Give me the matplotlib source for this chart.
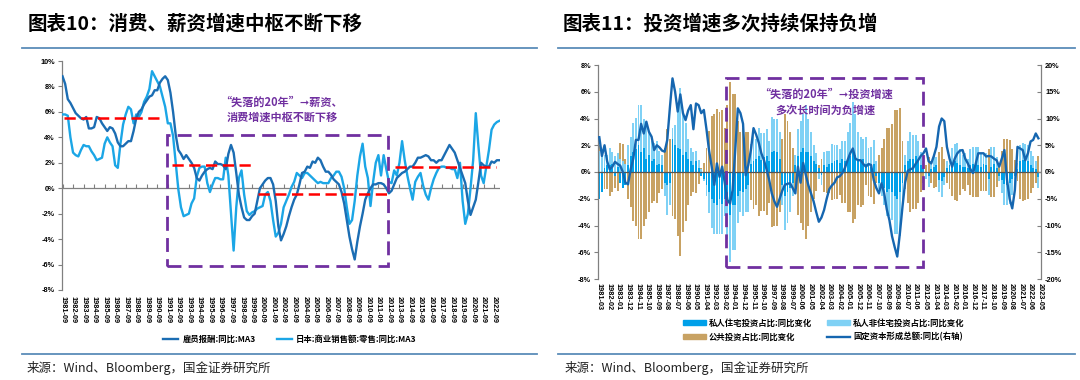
import numpy as np
import matplotlib
matplotlib.use("Agg")
import matplotlib.pyplot as plt
from matplotlib.lines import Line2D
from matplotlib.patches import Patch, Rectangle

plt.rcParams["font.family"] = ["Noto Sans CJK SC", "DejaVu Sans"]
plt.rcParams["axes.unicode_minus"] = False

# ---------------- left chart: quarterly, first point 1981Q3 ----------------
left_start = 1981.75
wage_yoy = [
    8.8,
    8.2, 7.0, 6.7, 6.3,      # 1982
    5.9, 5.7, 5.5, 5.4,      # 1983
    5.6, 4.7, 4.7, 4.8,      # 1984
    5.6, 5.5, 5.1, 4.8,      # 1985
    4.5, 4.8, 4.7, 4.3,      # 1986
    3.6, 3.3, 3.3, 3.5,      # 1987
    3.7, 3.7, 4.5, 5.5,      # 1988
    6.0, 6.2, 6.6, 6.9,      # 1989
    7.2, 7.3, 7.7, 7.7,      # 1990
    8.3, 8.6, 8.8, 8.5,      # 1991
    7.5, 6.0, 4.2, 3.0,      # 1992
    2.7, 2.3, 2.6, 2.3,      # 1993
    2.0, 1.6, 0.8, 0.6,      # 1994
    1.0, 1.3, 1.5, 1.6,      # 1995
    1.5, 2.1, 1.9, 1.9,      # 1996
    1.8, 1.5, 2.7, 3.4,      # 1997
    2.8, 1.2, -0.5, -1.5,    # 1998
    -2.3, -2.5, -2.5, -2.2,  # 1999
    -2.0, -1.0, 0.0, 0.3,    # 2000
    0.6, 0.8, 0.8, 0.3,      # 2001
    -1.0, -3.0, -4.1, -3.6,  # 2002
    -3.0, -2.2, -1.5, -0.9,  # 2003
    -0.5, 0.3, 1.2, 1.3,     # 2004
    1.7, 1.6, 2.1, 2.0,      # 2005
    2.4, 2.2, 1.7, 1.3,      # 2006
    1.3, 1.05, 0.7, 0.5,     # 2007
    0.3, -0.3, -1.2, -2.5,   # 2008
    -3.8, -4.8, -5.6, -4.2,  # 2009
    -3.0, -2.0, -0.9, -0.4,  # 2010
    0.0, 0.3, 0.3, 0.4,      # 2011
    0.4, 0.3, 0.0, -0.4,     # 2012
    -0.2, 0.3, 0.8, 1.0,     # 2013
    1.2, 1.3, 1.5, 1.7,      # 2014
    1.7, 2.0, 2.4, 2.4,      # 2015
    2.5, 2.6, 2.5, 2.2,      # 2016
    2.2, 2.0, 2.2, 2.2,      # 2017
    2.6, 3.0, 3.4, 3.1,      # 2018
    2.8, 2.2, 1.6, 1.0,      # 2019
    0.4, -1.0, -2.1, -1.5,   # 2020
    -0.9, 0.5, 2.0, 1.8,     # 2021
    1.7, 1.7, 2.1, 2.0,      # 2022
    2.2, 2.2,                # 2023
]
retail_yoy = [
    5.8,
    5.8, 5.7, 4.0, 2.8,      # 1982
    2.6, 2.5, 3.0, 3.4,      # 1983
    3.3, 3.3, 2.9, 2.6,      # 1984
    2.2, 2.3, 2.4, 3.5,      # 1985
    4.0, 3.6, 3.3, 1.8,      # 1986
    1.6, 3.5, 5.0, 5.8,      # 1987
    6.4, 6.2, 5.1, 5.8,      # 1988
    5.6, 6.0, 6.8, 7.2,      # 1989
    7.8, 9.2, 8.8, 8.4,      # 1990
    8.0, 7.2, 6.4, 5.1,      # 1991
    5.1, 4.1, 2.0, -0.1,     # 1992
    -1.5, -2.2, -2.1, -2.0,  # 1993
    -1.2, -0.8, 0.9, 1.6,    # 1994
    1.7, 1.7, 0.4, -0.3,     # 1995
    0.3, 0.8, 0.8, 0.7,      # 1996
    0.7, 2.4, 1.0, -2.0,     # 1997
    -4.9, -1.5, 0.8, 1.4,    # 1998
    -0.5, -1.8, -2.1, -1.9,  # 1999
    -1.8, -1.6, -1.5, -1.4,  # 2000
    -0.5, -0.3, -1.0, -2.5,  # 2001
    -3.8, -3.5, -2.8, -1.5,  # 2002
    -1.0, -0.5, 0.1, 0.5,    # 2003
    1.2, 1.0, 0.8, 1.2,      # 2004
    1.2, 1.0, 0.8, 0.6,      # 2005
    0.4, 0.5, 0.4, 0.4,      # 2006
    0.4, 0.8, 1.0, 1.3,      # 2007
    1.3, 0.9, 0.0, -1.5,     # 2008
    -2.8, -2.5, -1.0, 1.0,   # 2009
    2.5, 3.5, 1.7, 0.8,      # 2010
    -1.4, 0.5, 2.0, 2.6,     # 2011
    1.0, 2.6, 1.5, 0.5,      # 2012
    0.4, 1.4, 1.0, 2.0,      # 2013
    3.7, 2.2, 1.0, 0.0,      # 2014
    -0.9, 0.5, 0.9, 1.2,     # 2015
    0.2, -0.5, -0.9, 0.0,    # 2016
    0.7, 1.2, 1.6, 1.7,      # 2017
    1.7, 1.6, 1.6, 1.5,      # 2018
    1.5, 0.8, 2.0, -1.0,     # 2019
    -2.8, -2.0, 0.0, 2.2,    # 2020
    5.9, 3.3, 1.0, 0.4,      # 2021
    1.7, 3.0, 4.6, 5.0,      # 2022
    5.2, 5.3,                # 2023
]
left_ticklabels = [f"{y}-09" for y in range(1981, 2023)]

# period averages (red dashes)
avg_levels = [5.5, 1.8, -0.47, 1.63]
avg_from = [1981.87, 1992.14, 2000.31, 2013.28]
avg_to = [1991.34, 1999.71, 2012.6, 2022.9]

# ---------------- right chart: quarterly, first bar 1981-03 ----------------
res_share = [
    -2.0, -1.5, 0.3, 0.5,  0.5, 0.6, -0.3, 0.4,  -0.8, -1.2, -1.0, 0.5,
    1.2, 1.5, 1.7, 2.0,  1.5, 1.8, 1.0, 1.3,  0.8, 1.0, 0.5, 0.6,
    0.5, -0.8, -1.0, -0.8,  2.5, 2.0, 1.8, 1.7,  1.3, 1.5, 1.0, 0.8,
    0.5, 0.8, 0.3, -0.3,  -0.5, -1.0, -1.5, -2.0,  -2.3, -2.5, -2.0, -2.4,
    -2.0, -2.5, -3.2, -2.5,  -2.5, -1.8, -1.4, -1.5,  -1.3, -1.0, 0.6, 0.8,
    1.0, 1.2, 0.9, 1.1,  1.2, 0.8, 1.5, 1.6,  1.5, 1.0, -1.0, -1.8,
    -1.5, -1.2, -0.8, 0.5,  1.2, 1.5, 1.8, 1.5,  1.5, 1.2, 0.8, 0.6,
    0.3, -0.2, 0.5, 0.4,  0.6, 0.7, 0.8, 0.9,  0.7, 1.0, 0.8, 1.0,
    1.2, 1.5, 1.3, 1.0,  0.8, 1.0, 0.6, 0.5,  0.4, 0.6, -0.3, -0.8,
    -0.8, -1.2, -1.5, -1.3,  -1.5, -1.8, -2.0, -1.5,  -0.8, 0.5, 0.8, 1.0,
    1.0, 1.2, 0.8, 0.5,  0.3, 0.0, -0.3, 0.2,  0.4, 0.5, -0.6, -0.7,
    -0.4, 0.3, 0.5, 0.6,  0.8, 0.7, 0.5, 0.4,  0.4, 0.3, 0.5, 0.6,
    0.7, 0.5, 0.4, 0.6,  0.5, -0.5, 0.4, 0.6,  0.3, -0.3, -0.6, -0.9,
    -1.0, -0.8, -0.5, -0.3,  0.2, 0.8, 0.9, 1.0,  0.8, 0.5, 0.3, 0.2,
    -0.4,
]
nonres_share = [
    1.6, 1.2, 1.0, 0.8,  1.3, 0.9, 1.2, 1.0,  1.0, 0.8, 0.6, 1.5,
    1.4, 2.2, 2.3, 3.0,  3.5, 2.2, 2.5, 1.7,  1.5, 1.2, 1.8, 1.0,
    0.8, -1.0, -2.2, -1.7,  0.8, 1.5, 3.0, 4.6,  3.2, 2.2, 1.5, 1.0,
    1.0, 0.8, 0.6, 0.2,  -0.2, -0.8, -1.6, -2.2,  -2.3, -2.1, -2.6, -2.2,
    -1.3, -2.5, -3.5, -3.3,  -3.3, -2.0, -1.6, -1.8,  -1.7, -2.0, 1.5, 2.0,
    1.5, 2.1, 2.0, 1.8,  2.0, 1.5, 2.6, 2.4,  2.5, 2.0, -1.5, -2.5,
    -2.3, -1.8, -1.0, 0.8,  2.0, 2.3, 2.5, 3.5,  2.5, 1.8, 1.2, 0.8,
    -0.5, -0.8, 1.0, 1.2,  1.0, 1.4, 1.2, 1.1,  1.0, 1.3, 1.5, 2.0,
    2.5, 3.7, 3.0, 2.0,  1.8, 1.5, 2.0, 1.3,  1.5, 1.8, 0.8, -0.5,
    -1.0, -1.3, -1.8, -2.0,  -2.1, -2.8, -2.6, -3.3,  -1.5, 0.8, 1.5, 2.0,
    1.8, 1.6, 1.5, 1.0,  0.5, -0.5, -0.8, 0.6,  0.8, 0.6, -0.9, -1.2,
    -0.6, 0.5, 0.8, 1.2,  1.3, 1.5, 1.2, 0.9,  1.0, 0.7, 1.2, 1.3,
    1.2, 1.4, 1.0, 0.8,  0.9, -1.2, 1.5, 1.3,  0.8, -0.4, -1.0, -1.6,
    -1.5, -1.6, -1.2, -0.6,  0.5, 1.2, 1.3, 1.1,  1.2, 1.1, 0.9, 0.6,
    -0.8,
]
public_share = [
    0.4, 0.3, -1.3, -1.3,  -1.8, -1.5, -0.9, -1.4,  1.2, 1.3, 0.4, -2.0,
    -2.6, -3.7, -4.0, -5.0,  -5.0, -4.0, -3.5, -3.0,  -2.3, -2.2, -2.3, -1.6,
    -1.3, 1.8, 3.2, 2.5,  -3.3, -3.5, -4.8, -6.3,  -4.5, -3.7, -2.5, -1.8,
    -1.5, -1.6, -0.9, 0.1,  0.7, 1.8, 3.1, 4.2,  4.3, 4.7, 4.5, 4.6,
    3.3, 5.0, 6.7, 5.8,  5.8, 3.8, 3.0, 3.3,  3.0, 3.0, -2.1, -2.8,
    -2.5, -3.3, -2.9, -2.9,  -3.2, -2.3, -4.1, -4.0,  -4.0, -3.0, 2.5, 4.3,
    3.8, 3.0, 1.8, -1.3,  -3.2, -3.8, -4.3, -5.0,  -4.0, -3.0, -2.0, -1.4,
    0.2, 1.0, -1.5, -1.6,  -1.6, -2.1, -2.0, -2.0,  -1.7, -2.3, -2.3, -3.0,
    -3.0, -3.8, -3.5, -2.5,  -2.6, -2.5, -1.0, -1.8,  -1.9, -2.4, -0.5, 1.3,
    1.8, 2.5, 3.3, 3.3,  3.6, 4.6, 4.6, 4.8,  2.3, -1.3, -2.3, -3.0,
    -2.8, -2.8, -2.3, -1.5,  -0.8, 0.5, 1.1, -0.8,  -1.2, -1.1, 1.5, 1.9,
    1.0, -0.8, -1.3, -1.8,  -2.1, -2.2, -1.7, -1.3,  -1.4, -1.0, -1.7, -1.9,
    -1.9, -1.9, -1.4, -1.4,  -1.4, 1.7, -1.9, -1.9,  -1.1, 0.7, 1.6, 2.5,
    2.5, 2.4, 1.7, 0.9,  -0.7, -2.0, -2.2, -2.1,  -2.0, -1.6, -1.2, -0.8,
    1.2,
]
gfcf_yoy = [
    6.5, 3.0, 5.0, 2.0,  0.5, 1.0, 1.9, 1.5,  1.2, 0.0, -2.0, -2.3,
    0.5, 2.5, 6.0, 6.0,  9.0, 7.2, 9.4, 7.5,  6.6, 4.1, 5.0, 4.6,
    4.0, 3.8, 6.0, 12.0,  17.5, 15.0, 11.3, 14.5,  11.0, 9.7, 11.5, 12.5,
    8.0, 12.8, 12.5, 11.0,  11.6, 8.0, 4.0, 1.0,  -2.4, 1.6, -0.9, 1.0,
    -2.0, -5.2, -5.9, -3.4,  4.0, 11.9, 11.0, 9.0,  -0.6, 1.3, 4.1, 8.2,
    7.0, 5.5, 3.5, 2.2,  0.5, -1.5, -4.0, -5.5,  -6.5, -5.0, -3.5, -2.4,
    -2.2, -2.1, -3.0, -4.0,  1.0, -2.0, 1.7, -0.5,  -2.5, -4.0, -5.5, -7.5,
    -9.3, -8.5, -7.1, -5.0,  -3.2, -2.5, -2.0, -1.0,  -0.8, -0.2, 0.8, 2.2,
    3.5, 4.4, 2.5, 2.2,  2.2, 1.5, 1.0, 1.5,  1.3, -1.5, -3.0, -4.0,
    -2.1, -4.0, -7.0, -9.0,  -12.0, -14.0, -15.8, -11.5,  -6.5, -2.0, 0.2, 0.5,
    0.7, 1.5, 2.2, 3.0,  3.5, 4.4, 2.0, 1.6,  3.0, 4.7, 8.5, 10.0,
    9.5, 4.7, 2.5, 1.0,  2.5, 3.5, 4.0, 4.1,  2.5, 1.6, 0.5, -0.2,
    1.5, 3.5, 3.5, 3.5,  2.9, 3.0, 2.9, 2.5,  2.2, 1.0, 2.5, 4.1,
    -1.5, -5.0, -6.8, -3.4,  4.7, 4.4, 4.1, 2.2,  3.5, 5.7, 6.0, 7.2,
    6.3,
]
# tick every 11 months starting 1981-03
right_tick_months = list(range(0, 507, 11))
right_ticklabels = [f"{1981 + (2 + m) // 12}-{(2 + m) % 12 + 1:02d}" for m in right_tick_months]

# colours
C_WAGE = "#1b6db3"
C_RETAIL = "#1ba6e6"
C_RES = "#00a0e9"
C_NONRES = "#7fd1f5"
C_PUB = "#c8a263"
C_GFCF = "#1566b0"
C_RED = "#ff0000"
C_PURPLE = "#7030a0"
C_AXIS = "#808080"
C_RULE = "#5b8cb9"

NUM_FONT = dict(family="Liberation Sans", weight="bold", size=5.3)
LEGEND_PROP = dict(family=["Noto Sans CJK SC"], weight="bold", size=6)


def style_ticklabels(labels):
    for lab in labels:
        lab.set_fontfamily(NUM_FONT["family"])
        lab.set_fontweight(NUM_FONT["weight"])
        lab.set_fontsize(NUM_FONT["size"])


fig = plt.figure(figsize=(10.8, 3.8), dpi=100)
W, H = 1080, 380


def fx(px):
    return px / W


def fy(py):
    return 1 - py / H


# ---------------- left chart ----------------
axL = fig.add_axes([fx(62), fy(290), fx(438), 229 / H])
xL = left_start + 0.25 * np.arange(len(wage_yoy))
xR_ = left_start + 0.25 * np.arange(len(retail_yoy))
axL.plot(xR_, retail_yoy, color=C_RETAIL, lw=1.7, label="日本:商业销售额:零售:同比:MA3", zorder=3)
axL.plot(xL, wage_yoy, color=C_WAGE, lw=1.7, label="雇员报酬:同比:MA3", zorder=4)
for lvl, a, b in zip(avg_levels, avg_from, avg_to):
    axL.plot([a, b], [lvl, lvl], color=C_RED, lw=1.8, dashes=(4.5, 2.2), zorder=5)
axL.add_patch(Rectangle((1991.66, -6.1), 2012.65 - 1991.66, 4.2 + 6.1, fill=False,
                        ec=C_PURPLE, lw=2.0, ls=(0, (5, 2.6)), zorder=6))
axL.axhline(0, color=C_AXIS, lw=0.9, zorder=2)
axL.set_xlim(1981.7, 2023.3)
axL.set_ylim(-8, 10)
yt = np.arange(-8, 11, 2)
axL.set_yticks(yt)
axL.set_yticklabels([f"{v}%" for v in yt])
ticks_L = left_start + np.arange(len(left_ticklabels))
axL.set_xticks(ticks_L)
axL.set_xticklabels(left_ticklabels, rotation=-90)
axL.tick_params(axis="x", length=0, pad=4)
axL.tick_params(axis="y", length=3, width=0.8, color=C_AXIS, pad=2)
for s in ("top", "right", "bottom"):
    axL.spines[s].set_visible(False)
axL.spines["left"].set_color(C_AXIS)
axL.spines["left"].set_linewidth(0.9)
style_ticklabels(axL.get_xticklabels() + axL.get_yticklabels())
secL = axL.secondary_xaxis(8 / 18)
secL.set_xticks(ticks_L)
secL.tick_params(direction="in", length=3, width=0.8, color=C_AXIS, labelbottom=False, labeltop=False)
for s in secL.spines.values():
    s.set_visible(False)

fig.text(fx(282), fy(102), "“失落的20年”➞薪资、", color=C_PURPLE, fontsize=8,
         fontweight="bold", ha="center", va="center")
fig.text(fx(282), fy(117), "消费增速中枢不断下移", color=C_PURPLE, fontsize=8,
         fontweight="bold", ha="center", va="center")

h, l = axL.get_legend_handles_labels()
fig.legend(h[::-1], l[::-1], loc="center", bbox_to_anchor=(fx(290), fy(339)), ncol=2,
           frameon=False, prop=LEGEND_PROP,
           handlelength=1.8, columnspacing=2.5, handletextpad=0.5)

# ---------------- right chart ----------------
axR = fig.add_axes([fx(598), fy(279), fx(443), 214 / H])
m = 3 * np.arange(len(res_share))
pos_base = np.zeros(len(m))
neg_base = np.zeros(len(m))
bar_handles = []
for vals, col, lab in ((res_share, C_RES, "私人住宅投资占比:同比变化"),
                       (nonres_share, C_NONRES, "私人非住宅投资占比:同比变化"),
                       (public_share, C_PUB, "公共投资占比:同比变化")):
    v = np.asarray(vals, dtype=float)
    bottom = np.where(v >= 0, pos_base, neg_base)
    axR.bar(m, v, bottom=bottom, width=2.2, color=col, lw=0, zorder=2)
    pos_base += np.clip(v, 0, None)
    neg_base += np.clip(v, None, 0)
    bar_handles.append(Patch(color=col, label=lab))
axR.axhline(0, color="#555555", lw=0.9, zorder=3)
axR.add_patch(Rectangle((145, -7.1), 371.7 - 145, 14.1, fill=False,
                        ec=C_PURPLE, lw=2.0, ls=(0, (5, 2.6)), zorder=6))
axR.set_xlim(-1.5, 507)
axR.set_ylim(-8, 8)
yt = np.arange(-8, 9, 2)
axR.set_yticks(yt)
axR.set_yticklabels([f"{v}%" for v in yt])
axR.set_xticks(right_tick_months)
axR.set_xticklabels(right_ticklabels, rotation=-90)
axR.tick_params(axis="x", length=0, pad=3)
axR.tick_params(axis="y", length=3, width=0.8, color=C_AXIS, pad=2)
for s in ("top", "right", "bottom"):
    axR.spines[s].set_visible(False)
axR.spines["left"].set_color(C_AXIS)
axR.spines["left"].set_linewidth(0.9)
style_ticklabels(axR.get_xticklabels() + axR.get_yticklabels())

axR2 = axR.twinx()
line_g, = axR2.plot(m, gfcf_yoy, color=C_GFCF, lw=1.7, zorder=5,
                    label="固定资本形成总额:同比(右轴)")
axR2.set_ylim(-20, 20)
yt2 = np.arange(-20, 21, 5)
axR2.set_yticks(yt2)
axR2.set_yticklabels([f"{v}%" for v in yt2])
axR2.tick_params(axis="y", direction="in", length=3, width=0.8, color=C_AXIS, pad=3)
for s in ("top", "left", "bottom"):
    axR2.spines[s].set_visible(False)
axR2.spines["right"].set_color(C_AXIS)
axR2.spines["right"].set_linewidth(0.9)
style_ticklabels(axR2.get_yticklabels())

fig.text(fx(826), fy(94), "“失落的20年”➞投资增速", color=C_PURPLE, fontsize=8,
         fontweight="bold", ha="center", va="center")
fig.text(fx(825), fy(110), "多次长时间为负增速", color=C_PURPLE, fontsize=8,
         fontweight="bold", ha="center", va="center")

handles = [bar_handles[0], bar_handles[2], bar_handles[1], line_g]
fig.legend(handles, [hh.get_label() for hh in handles], loc="center",
           bbox_to_anchor=(fx(824), fy(330)), ncol=2, frameon=False,
           prop=LEGEND_PROP,
           handlelength=2.7, columnspacing=1.8, handletextpad=0.4, labelspacing=0.6)

# ---------------- titles, rules, sources ----------------
fig.text(fx(28), fy(24), "图表10：消费、薪资增速中枢不断下移", fontsize=14,
         fontweight="bold", ha="left", va="center")
fig.text(fx(563), fy(24), "图表11：投资增速多次持续保持负增", fontsize=14,
         fontweight="bold", ha="left", va="center")
for x0, x1 in ((22, 537), (558, 1075)):
    fig.add_artist(Line2D([fx(x0), fx(x1)], [fy(48), fy(48)], color=C_RULE, lw=1.3))
    fig.add_artist(Line2D([fx(x0), fx(x1)], [fy(354), fy(354)], color=C_RULE, lw=1.3))
fig.text(fx(27), fy(368), "来源：Wind、Bloomberg，国金证券研究所", fontsize=9,
         ha="left", va="center", color="#222222")
fig.text(fx(565), fy(368), "来源：Wind、Bloomberg，国金证券研究所", fontsize=9,
         ha="left", va="center", color="#222222")

fig.savefig("out.png", dpi=100)
